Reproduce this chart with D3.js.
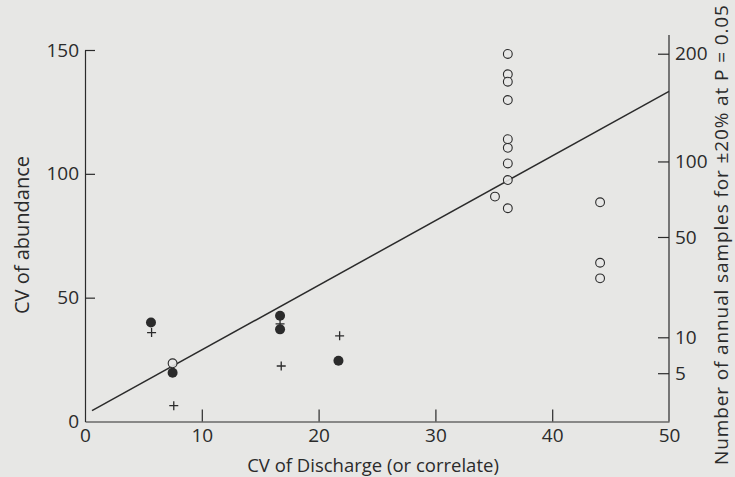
<!DOCTYPE html>
<html>
<head>
<meta charset="utf-8">
<script src="https://cdn.jsdelivr.net/npm/d3@7"></script>
<style>
  html, body { margin: 0; padding: 0; background: #e7e7e5; }
  svg { display: block; }
  text { font-family: "Open Sans", "Noto Sans", sans-serif; fill: #2b2b2b; }
</style>
</head>
<body>
<svg id="chart" width="735" height="477"></svg>
<script>
// === Data ===
const xTicks = [0, 10, 20, 30, 40, 50];
const yTicks = [0, 50, 100, 150];

// right axis: sample counts and the CV they line up with
const rightTicks = [5, 10, 50, 100, 200];
const rightTickCV = [19.5, 34, 74.5, 105, 148.5];

// open circles
const openX = [36.2, 36.2, 36.2, 36.2, 36.2, 36.2, 36.2, 36.2, 35.1, 36.2, 44.1, 44.1, 44.1, 7.5];
const openY = [148.4, 140.2, 137.2, 129.8, 114.0, 110.5, 104.2, 97.5, 90.8, 86.1, 88.5, 64.1, 57.8, 23.5];

// filled circles
const filledX = [5.65, 7.5, 16.7, 16.7, 21.7];
const filledY = [40.0, 19.7, 42.7, 37.2, 24.5];

// crosses
const plusX = [5.7, 7.6, 16.7, 16.8, 21.8];
const plusY = [35.9, 6.4, 39.4, 22.4, 34.6];

// fitted line: CV abundance = a + b * CV discharge
const fitIntercept = 2.8;
const fitSlope = 2.61;
const fitRange = [0.6, 50];

(function () {
    const ink = '#2b2b2b';
    const svg = d3.select('#chart');

    const x = d3.scaleLinear().domain([0, 50]).range([85, 669]);
    const y = d3.scaleLinear().domain([0, 150]).range([421.5, 50]);
    const yRight = d3.scaleLinear().domain(rightTicks).range(rightTickCV.map(y));

    // === Axes ===
    const left = svg.append('g')
        .attr('transform', `translate(${x(0)},0)`)
        .call(d3.axisLeft(y).tickValues(yTicks).tickSizeInner(-10).tickSizeOuter(0).tickPadding(6));

    const bottom = svg.append('g')
        .attr('transform', `translate(0,${y(0)})`)
        .call(d3.axisBottom(x).tickValues(xTicks).tickSizeInner(-12).tickSizeOuter(0).tickPadding(7));

    const right = svg.append('g')
        .attr('transform', `translate(${x(50)},0)`)
        .call(d3.axisRight(yRight).tickValues(rightTicks).tickSizeInner(-11).tickSizeOuter(0).tickPadding(6));
    right.select('.domain').remove();

    // right axis runs higher than the left one
    svg.append('line')
        .attr('x1', x(50)).attr('x2', x(50))
        .attr('y1', 35).attr('y2', y(0))
        .attr('stroke', ink).attr('stroke-width', 1.2);

    [left, bottom, right].forEach(g => {
        g.selectAll('.domain, line').attr('stroke', ink).attr('stroke-width', 1.2);
        g.selectAll('text').attr('font-size', '19px').attr('fill', ink)
            .attr('font-family', '"Open Sans", "Noto Sans", sans-serif');
    });
    // no tick marks at the corners
    bottom.selectAll('.tick').filter(d => d === 0 || d === 50).select('line').remove();
    left.selectAll('.tick').filter(d => d === 0).select('line').remove();

    // === Titles ===
    svg.append('text')
        .attr('transform', 'translate(29,235) rotate(-90)')
        .attr('text-anchor', 'middle')
        .attr('font-size', '20px')
        .text('CV of abundance');

    svg.append('text')
        .attr('x', 373).attr('y', 472)
        .attr('text-anchor', 'middle')
        .attr('font-size', '18.5px')
        .text('CV of Discharge (or correlate)');

    svg.append('text')
        .attr('transform', 'translate(728,465) rotate(-90)')
        .attr('text-anchor', 'start')
        .attr('font-size', '19px')
        .attr('textLength', 460)
        .attr('lengthAdjust', 'spacing')
        .text('Number of annual samples for ±20% at P = 0.05');

    // === Fitted line ===
    svg.append('line')
        .attr('x1', x(fitRange[0])).attr('y1', y(fitIntercept + fitSlope * fitRange[0]))
        .attr('x2', x(fitRange[1])).attr('y2', y(fitIntercept + fitSlope * fitRange[1]))
        .attr('stroke', ink).attr('stroke-width', 1.5);

    // === Points ===
    const plusData = plusX.map((v, i) => ({ x: v, y: plusY[i] }));
    const filledData = filledX.map((v, i) => ({ x: v, y: filledY[i] }));
    const openData = openX.map((v, i) => ({ x: v, y: openY[i] }));

    const s = 4.5;
    svg.append('g').selectAll('path')
        .data(plusData)
        .join('path')
        .attr('d', d => `M${x(d.x) - s},${y(d.y)}H${x(d.x) + s}M${x(d.x)},${y(d.y) - s}V${y(d.y) + s}`)
        .attr('stroke', ink).attr('stroke-width', 1.3).attr('fill', 'none');

    svg.append('g').selectAll('circle')
        .data(filledData)
        .join('circle')
        .attr('cx', d => x(d.x)).attr('cy', d => y(d.y))
        .attr('r', 5)
        .attr('fill', ink);

    svg.append('g').selectAll('circle')
        .data(openData)
        .join('circle')
        .attr('cx', d => x(d.x)).attr('cy', d => y(d.y))
        .attr('r', 4.4)
        .attr('fill', '#e7e7e5')
        .attr('fill-opacity', 0.9)
        .attr('stroke', ink).attr('stroke-width', 1.1);
})();
</script>
</body>
</html>
